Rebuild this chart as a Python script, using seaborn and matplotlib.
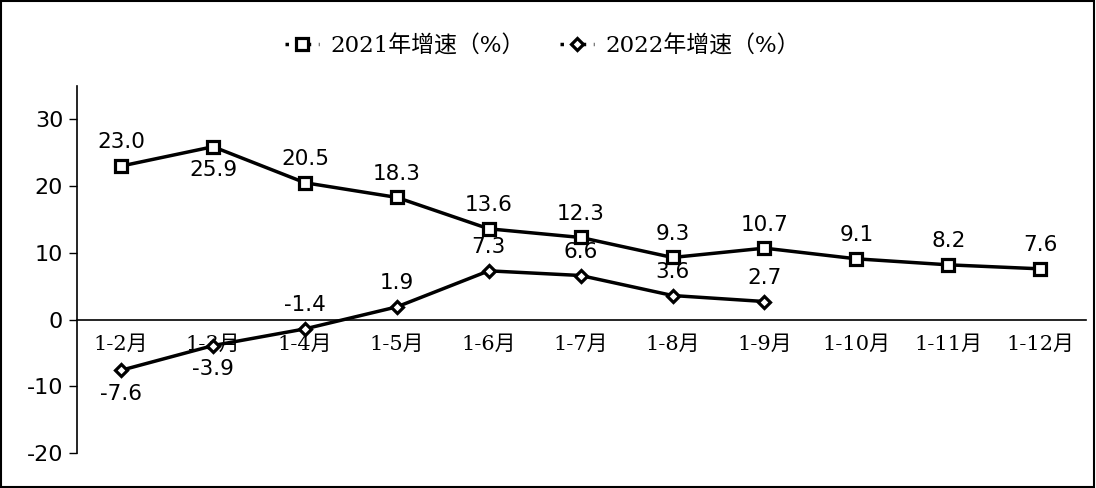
import matplotlib
matplotlib.use('Agg')
import matplotlib.pyplot as plt
import pandas as pd
import seaborn as sns

months = ['1-2月', '1-3月', '1-4月', '1-5月', '1-6月', '1-7月', '1-8月', '1-9月', '1-10月', '1-11月', '1-12月']
growth_2021 = [23.0, 25.9, 20.5, 18.3, 13.6, 12.3, 9.3, 10.7, 9.1, 8.2, 7.6]
growth_2022 = [-7.6, -3.9, -1.4, 1.9, 7.3, 6.6, 3.6, 2.7]
name_2021 = '2021年增速（%）'
name_2022 = '2022年增速（%）'
# label above (+1) or below (-1) the point
side_2021 = [1, -1, 1, 1, 1, 1, 1, 1, 1, 1, 1]
side_2022 = [-1, -1, 1, 1, 1, 1, 1, 1]

sns.set_theme(style='white')
plt.rcParams['font.family'] = ['DejaVu Sans', 'Noto Sans CJK SC']
plt.rcParams['axes.unicode_minus'] = False
plt.rcParams['text.color'] = 'black'
serif = ['DejaVu Serif', 'Noto Sans CJK SC']

df = pd.concat([
    pd.DataFrame({'x': range(len(growth_2021)), 'v': growth_2021, 's': name_2021}),
    pd.DataFrame({'x': range(len(growth_2022)), 'v': growth_2022, 's': name_2022}),
])

fig = plt.figure(figsize=(10.96, 4.88), dpi=100)
ax = fig.add_axes([0.0703, 0.0717, 0.9207, 0.7521])

sns.lineplot(data=df, x='x', y='v', hue='s', style='s',
             palette=['black', 'black'], markers=['s', 'D'], dashes=False,
             markersize=8.5, markerfacecolor='white', markeredgecolor='black',
             markeredgewidth=2.3, linewidth=2.5, ax=ax, legend=False)
ax.lines[1].set_markersize(6.5)

for vals, sides in [(growth_2021, side_2021), (growth_2022, side_2022)]:
    for i, (v, s) in enumerate(zip(vals, sides)):
        ax.annotate(f'{v:.1f}', (i, v), xytext=(0, 17 * s), textcoords='offset points',
                    ha='center', va='center', fontsize=15.5, color='black')

# spine position first: it resets the ticks
ax.spines['bottom'].set_position(('data', 0))
ax.spines['top'].set_visible(False)
ax.spines['right'].set_visible(False)
for sp in ['left', 'bottom']:
    ax.spines[sp].set_color('black')
    ax.spines[sp].set_linewidth(1.2)

ax.set_xlim(-0.48, 10.5)
ax.set_ylim(-20, 35)
ax.set_yticks([-20, -10, 0, 10, 20, 30])
ax.set_xticks(range(len(months)))
ax.tick_params(axis='x', length=0, pad=11, colors='black')
ax.tick_params(axis='y', direction='out', length=6, width=1, labelsize=16, colors='black', left=True, pad=4)
ax.set_xticklabels(months, family=serif, fontsize=15, color='black')
ax.set_xlabel('')
ax.set_ylabel('')

h1 = plt.Line2D([], [], color='black', marker='s', markersize=8, markerfacecolor='white',
                markeredgewidth=2.3, linewidth=2.5, linestyle=(0, (1, 2.2)))
h2 = plt.Line2D([], [], color='black', marker='D', markersize=6, markerfacecolor='white',
                markeredgewidth=2.3, linewidth=2.5, linestyle=(0, (1, 2.2)))
leg = fig.legend([h1, h2], [name_2021, name_2022], loc='center', bbox_to_anchor=(0.495, 0.905),
                 ncol=2, frameon=False, prop={'family': serif, 'size': 16.5},
                 handlelength=1.5, columnspacing=1.5, handletextpad=0.5)
for t in leg.get_texts():
    t.set_color('black')

fig.patches.append(plt.Rectangle((0.001, 0.002), 0.997, 0.995, transform=fig.transFigure,
                                 fill=False, edgecolor='black', linewidth=1.5))

fig.savefig('out.png', dpi=100)
